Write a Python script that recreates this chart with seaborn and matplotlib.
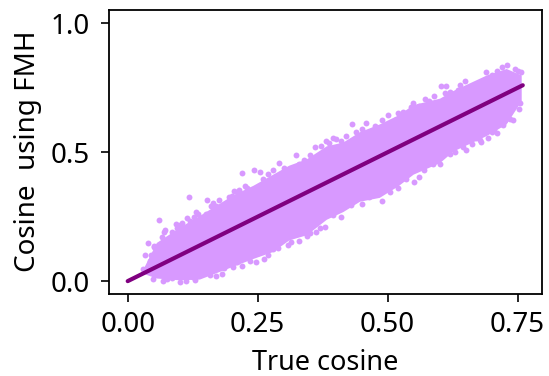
import matplotlib
matplotlib.use('Agg')
import matplotlib.pyplot as plt
import seaborn as sns

# outline of the dense cloud
band_x = [0.03, 0.055, 0.10, 0.138, 0.2025, 0.241, 0.279, 0.31, 0.344, 0.382, 0.414, 0.446, 0.484, 0.52, 0.549, 0.60, 0.626, 0.69, 0.728, 0.757]
band_hi = [0.05, 0.15, 0.21, 0.255, 0.335, 0.372, 0.415, 0.45, 0.475, 0.525, 0.54, 0.58, 0.61, 0.645, 0.685, 0.71, 0.74, 0.80, 0.825, 0.80]
band_lo = [0.03, 0.012, 0.005, 0.008, 0.058, 0.088, 0.115, 0.16, 0.18, 0.24, 0.27, 0.31, 0.325, 0.37, 0.415, 0.46, 0.505, 0.565, 0.61, 0.70]

# points that stick out round the edge of the cloud
edge_x = [0.118, 0.153, 0.06, 0.219, 0.243, 0.254, 0.292, 0.324, 0.039, 0.034, 0.042, 0.05,
          0.182, 0.308, 0.262, 0.2475, 0.236, 0.2025, 0.363, 0.356, 0.344,
          0.432, 0.459, 0.381, 0.395, 0.52, 0.603, 0.613, 0.549, 0.571, 0.649,
          0.60, 0.587, 0.629, 0.663, 0.677, 0.693, 0.704, 0.722, 0.741, 0.752, 0.606,
          0.03, 0.05, 0.065, 0.085, 0.10, 0.12, 0.135, 0.15, 0.17, 0.19, 0.21, 0.23, 0.26, 0.28, 0.30, 0.34,
          0.36, 0.40, 0.42, 0.45, 0.475, 0.50, 0.53, 0.56, 0.59, 0.62, 0.64, 0.67, 0.69, 0.71, 0.73, 0.745, 0.757,
          0.048, 0.068, 0.085, 0.10, 0.113, 0.13, 0.158, 0.17, 0.22, 0.27, 0.29, 0.33, 0.38, 0.41, 0.45, 0.49, 0.52, 0.55, 0.57,
          0.65, 0.68, 0.71, 0.735, 0.755,
          0.07, 0.078, 0.092, 0.11, 0.128, 0.143, 0.16, 0.18, 0.2, 0.225, 0.27, 0.31, 0.33, 0.35, 0.372, 0.388, 0.41, 0.44, 0.49, 0.515, 0.545, 0.58, 0.61, 0.635, 0.66, 0.70, 0.72, 0.75,
          0.06, 0.075, 0.09, 0.125, 0.145, 0.185, 0.21, 0.25, 0.28, 0.315, 0.35, 0.37, 0.395, 0.43, 0.465, 0.505, 0.535, 0.56, 0.62, 0.645, 0.67, 0.70, 0.725,
          0.045, 0.058, 0.072, 0.095, 0.105, 0.115, 0.132, 0.165, 0.175, 0.195, 0.205, 0.215]
edge_y = [0.327, 0.314, 0.236, 0.421, 0.43, 0.424, 0.459, 0.488, 0.148, 0.101, 0.079, 0.133,
          0.027, 0.14, 0.084, 0.075, 0.077, 0.055, 0.191, 0.221, 0.174,
          0.611, 0.614, 0.544, 0.555, 0.654, 0.756, 0.756, 0.691, 0.707, 0.775,
          0.456, 0.456, 0.501, 0.531, 0.547, 0.557, 0.589, 0.605, 0.627, 0.666, 0.488,
          0.048, 0.135, 0.17, 0.19, 0.217, 0.235, 0.26, 0.262, 0.29, 0.30, 0.345, 0.36, 0.395, 0.43, 0.44, 0.47,
          0.52, 0.55, 0.565, 0.59, 0.60, 0.645, 0.655, 0.68, 0.72, 0.735, 0.76, 0.765, 0.81, 0.815, 0.837, 0.825, 0.81,
          0.01, 0.0, 0.012, -0.005, 0.0, 0.004, 0.023, 0.02, 0.06, 0.10, 0.13, 0.155, 0.21, 0.25, 0.30, 0.31, 0.36, 0.385, 0.43,
          0.51, 0.54, 0.575, 0.63, 0.69,
          0.19, 0.16, 0.22, 0.20, 0.25, 0.235, 0.29, 0.28, 0.33, 0.37, 0.415, 0.435, 0.455, 0.49, 0.525, 0.535, 0.545, 0.58, 0.625, 0.625, 0.675, 0.70, 0.73, 0.74, 0.745, 0.80, 0.83, 0.815,
          0.035, 0.01, 0.025, 0.015, 0.03, 0.05, 0.075, 0.11, 0.125, 0.15, 0.185, 0.205, 0.255, 0.295, 0.325, 0.345, 0.395, 0.405, 0.495, 0.52, 0.555, 0.58, 0.625,
          0.10, 0.06, 0.20, 0.205, 0.225, 0.245, 0.27, 0.305, 0.315, 0.325, 0.35, 0.355]

line_x = [0.0, 0.76]
line_y = [0.0, 0.76]

x_ticks = [0.0, 0.25, 0.5, 0.75]
x_labels = ['0.00', '0.25', '0.50', '0.75']
y_ticks = [0.0, 0.5, 1.0]
y_labels = ['0.0', '0.5', '1.0']

sns.set_style('ticks')
plt.rcParams['font.family'] = ['Noto Sans', 'DejaVu Sans']

fig = plt.figure(figsize=(5.49, 3.76), dpi=100)
ax = fig.add_axes([109 / 549, 1 - 293.5 / 376, 433 / 549, 283.5 / 376])

point_colour = '#d899ff'
ax.fill_between(band_x, band_lo, band_hi, color=point_colour, lw=0)
sns.scatterplot(x=edge_x, y=edge_y, color=point_colour, s=18, linewidth=0, ax=ax)
sns.lineplot(x=line_x, y=line_y, color='purple', linewidth=3, ax=ax)

ax.set_xlim(-0.036, 0.797)
ax.set_ylim(-0.048, 1.052)
ax.set_xticks(x_ticks)
ax.set_xticklabels(x_labels)
ax.set_yticks(y_ticks)
ax.set_yticklabels(y_labels)
ax.tick_params(axis='x', labelsize=20, length=5.8, width=1.2, colors='black', pad=7)
ax.tick_params(axis='y', labelsize=20, length=5.8, width=1.2, colors='black', pad=8)
ax.set_xlabel('True cosine', fontsize=19.5, color='black', labelpad=7)
ax.set_ylabel('Cosine  using FMH', fontsize=20, color='black', labelpad=6)
for side in ax.spines.values():
    side.set_linewidth(1.3)
    side.set_color('black')

fig.savefig('out.png', dpi=100)
